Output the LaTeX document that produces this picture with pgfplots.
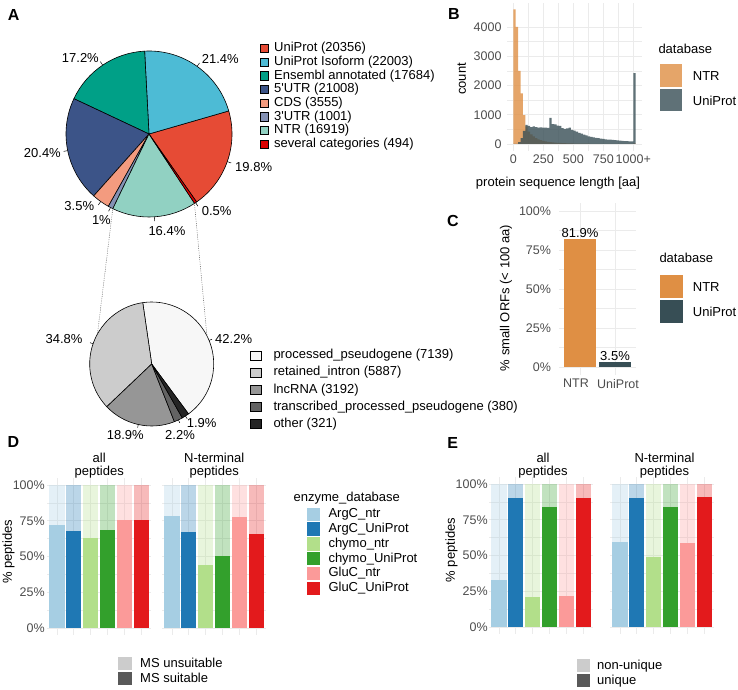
\documentclass[border=0pt]{standalone}
\usepackage{fontspec}
\setmainfont{Liberation Sans}
\usepackage{pgfplots}
\pgfplotsset{compat=1.18}
\usetikzlibrary{calc}

\definecolor{npgA}{HTML}{E64B35}
\definecolor{npgB}{HTML}{4DBBD5}
\definecolor{npgC}{HTML}{00A087}
\definecolor{npgD}{HTML}{3C5488}
\definecolor{npgE}{HTML}{F39B7F}
\definecolor{npgF}{HTML}{8491B4}
\definecolor{npgG}{HTML}{91D1C2}
\definecolor{npgH}{HTML}{DC0000}
\definecolor{gA}{HTML}{F7F7F7}
\definecolor{gB}{HTML}{CCCCCC}
\definecolor{gC}{HTML}{969696}
\definecolor{gD}{HTML}{636363}
\definecolor{gE}{HTML}{252525}
\definecolor{jntr}{HTML}{DF8F44}
\definecolor{juni}{HTML}{374E55}
\definecolor{pA}{HTML}{A6CEE3}
\definecolor{pB}{HTML}{1F78B4}
\definecolor{pC}{HTML}{B2DF8A}
\definecolor{pD}{HTML}{33A02C}
\definecolor{pE}{HTML}{FB9A99}
\definecolor{pF}{HTML}{E31A1C}
\definecolor{ggrid}{HTML}{EBEBEB}
\definecolor{tickgray}{HTML}{4D4D4D}

\pgfplotsset{
  gg/.style={
    scale only axis, anchor=south west,
    axis line style={draw=none},
    tick style={draw=none},
    major tick length=0pt, minor tick length=0pt,
    grid=both,
    major grid style={draw=ggrid, line width=0.9pt},
    minor grid style={draw=ggrid, line width=0.45pt},
    tick label style={font=\fontsize{12.5}{15}\selectfont, text=tickgray},
    /pgf/number format/assume math mode=true,
    /pgf/number format/1000 sep={},
    scaled ticks=false,
  },
  gbar/.style={ybar, bar width=0.9, bar shift=0pt, draw=none},
}

\newcommand{\sixbars}[6]{%
  \addplot[gbar, fill=pA, fill opacity=0.3] coordinates {(1,100)};
  \addplot[gbar, fill=pB, fill opacity=0.3] coordinates {(2,100)};
  \addplot[gbar, fill=pC, fill opacity=0.3] coordinates {(3,100)};
  \addplot[gbar, fill=pD, fill opacity=0.3] coordinates {(4,100)};
  \addplot[gbar, fill=pE, fill opacity=0.3] coordinates {(5,100)};
  \addplot[gbar, fill=pF, fill opacity=0.3] coordinates {(6,100)};
  \addplot[gbar, fill=pA] coordinates {(1,#1)};
  \addplot[gbar, fill=pB] coordinates {(2,#2)};
  \addplot[gbar, fill=pC] coordinates {(3,#3)};
  \addplot[gbar, fill=pD] coordinates {(4,#4)};
  \addplot[gbar, fill=pE] coordinates {(5,#5)};
  \addplot[gbar, fill=pF] coordinates {(6,#6)};
}

\begin{document}
\fontsize{13}{15.6}\selectfont
\begin{tikzpicture}
\path[use as bounding box] (0pt,0pt) rectangle (738pt,689pt);

% ---------- Panel A: big pie ----------
\gdef\s{-55}
\foreach \v/\c in {20356/npgA, 22003/npgB, 17684/npgC, 21008/npgD, 3555/npgE, 1001/npgF, 16919/npgG, 494/npgH} {
  \edef\e{\fpeval{\s+\v/103020*360}}
  \edef\m{\fpeval{(\s+\e)/2}}
  \filldraw[fill=\c, draw=black, line width=0.6pt, line join=round] (149pt,555pt) -- ++(\s:83pt) arc[start angle=\s, end angle=\e, radius=83pt] -- cycle;
  \draw[line width=0.5pt] (149pt,555pt) ++(\m:83pt) -- ++(\m:4.2pt);
  \xdef\s{\e}
}
% small pie
\gdef\s{-53.6}
\foreach \v/\c in {7139/gA, 5887/gB, 3192/gC, 380/gD, 321/gE} {
  \edef\e{\fpeval{\s+\v/16919*360}}
  \edef\m{\fpeval{(\s+\e)/2}}
  \filldraw[fill=\c, draw=black, line width=0.6pt, line join=round] (151.7pt,325pt) -- ++(\s:62pt) arc[start angle=\s, end angle=\e, radius=62pt] -- cycle;
  \draw[line width=0.5pt] (151.7pt,325pt) ++(\m:62pt) -- ++(\m:3.2pt);
  \xdef\s{\e}
}
\draw[line width=0.5pt, black!75, dash pattern=on 0.6pt off 1.2pt] ($(149pt,555pt)+(244.1:83pt)$) -- ($(151.7pt,325pt)+(151:62pt)$);
\draw[line width=0.5pt, black!75, dash pattern=on 0.6pt off 1.2pt] ($(149pt,555pt)+(303.2:83pt)$) -- ($(151.7pt,325pt)+(27:62pt)$);

% ---------- Panel B: histogram ----------
\begin{axis}[gg, at={(507.2pt,538.3pt)}, width=134.6pt, height=148pt,
  xmin=-51, xmax=1071, ymin=-230, ymax=4830,
  xtick={0,250,500,750,1000}, xticklabels={0,250,500,750,1000+},
  ytick={0,1000,2000,3000,4000}, minor tick num=1,
  yticklabel style={xshift=-1.2pt}]
\addplot[ybar interval, fill=jntr, fill opacity=0.8, draw=none] table {
x y
0 4600
20 4000
40 2500
60 1730
80 990
100 600
120 420
140 330
160 260
180 200
200 160
220 130
240 110
260 90
280 75
300 65
320 55
340 45
360 40
380 35
400 30
420 25
440 22
460 20
480 18
500 15
520 13
540 12
560 10
580 10
600 8
620 8
640 7
660 6
680 6
700 5
720 5
740 4
760 4
780 4
800 3
820 3
840 3
860 3
880 2
900 2
920 2
940 2
960 2
980 2
1000 20
1020 0
};
\addplot[ybar interval, fill=juni, fill opacity=0.8, draw=none] table {
x y
0 0
20 5
40 60
60 200
80 450
100 650
120 620
140 580
160 600
180 580
200 560
220 570
240 560
260 560
280 550
300 890
320 680
340 670
360 630
380 620
400 540
420 520
440 530
460 560
480 480
500 460
520 420
540 380
560 350
580 320
600 290
620 260
640 240
660 225
680 210
700 200
720 185
740 170
760 160
780 150
800 145
820 140
840 130
860 125
880 115
900 105
920 100
940 95
960 90
980 85
1000 2420
1020 0
};
\end{axis}

% ---------- Panel C ----------
\begin{axis}[gg, at={(559pt,314.2pt)}, width=77pt, height=171.6pt,
  xmin=0.4, xmax=2.6, ymin=-5, ymax=105,
  xtick={1,2}, xticklabels={NTR\hspace*{8pt},\hspace*{6pt}UniProt},
  ytick={0,25,50,75,100}, yticklabels={0\%,25\%,50\%,75\%,100\%},
  minor y tick num=1, yticklabel style={xshift=-3.5pt},
  nodes near coords={\pgfmathprintnumber[fixed,fixed zerofill,precision=1]{\pgfplotspointmeta}\%},
  every node near coord/.append style={font=\fontsize{13}{15}\selectfont, text=black, inner sep=1pt, anchor=south}]
\addplot[gbar, fill=jntr] coordinates {(1,81.9)};
\addplot[gbar, fill=juni] coordinates {(2,3.5)};
\end{axis}

% ---------- Panel D ----------
\begin{axis}[gg, at={(46.9pt,53.85pt)}, width=104.5pt, height=157.3pt,
  xmin=0.4, xmax=6.6, ymin=-5, ymax=105,
  xtick={1,2,3,4,5,6}, xticklabels={,,,,,},
  ytick={0,25,50,75,100}, yticklabels={0\%,25\%,50\%,75\%,100\%},
  minor y tick num=1, yticklabel style={xshift=2.4pt}]
\sixbars{72.1}{68.1}{62.6}{68.8}{75.3}{75.3}
\end{axis}
\begin{axis}[gg, at={(161.9pt,53.85pt)}, width=104.5pt, height=157.3pt,
  xmin=0.4, xmax=6.6, ymin=-5, ymax=105,
  xtick={1,2,3,4,5,6}, xticklabels={,,,,,},
  ytick={0,25,50,75,100}, yticklabels={,,,,},
  minor y tick num=1]
\sixbars{78.6}{67.0}{44.0}{50.5}{77.4}{65.8}
\end{axis}

% ---------- Panel E ----------
\begin{axis}[gg, at={(488.9pt,54.85pt)}, width=104.5pt, height=157.3pt,
  xmin=0.4, xmax=6.6, ymin=-5, ymax=105,
  xtick={1,2,3,4,5,6}, xticklabels={,,,,,},
  ytick={0,25,50,75,100}, yticklabels={0\%,25\%,50\%,75\%,100\%},
  minor y tick num=1, yticklabel style={xshift=3.3pt}]
\sixbars{32.6}{90.0}{20.7}{83.7}{21.4}{90.0}
\end{axis}
\begin{axis}[gg, at={(609.9pt,54.85pt)}, width=104.5pt, height=157.3pt,
  xmin=0.4, xmax=6.6, ymin=-5, ymax=105,
  xtick={1,2,3,4,5,6}, xticklabels={,,,,,},
  ytick={0,25,50,75,100}, yticklabels={,,,,},
  minor y tick num=1]
\sixbars{59.6}{90.0}{49.3}{84.1}{58.9}{90.7}
\end{axis}

% ---------- texts (pixel coordinates from top-left) ----------
\begin{scope}[x=1pt,y=-1pt,shift={(0pt,689pt)}]
  % panel letters
  \begin{scope}[every node/.style={font=\fontsize{16}{19}\selectfont\bfseries}]
    \node at (13.7,15.3) {A};
    \node at (453.8,14.2) {B};
    \node at (453,221) {C};
    \node at (13.3,441.7) {D};
    \node at (452.8,442.5) {E};
  \end{scope}
  % pie labels
  \begin{scope}[every node/.style={inner sep=0pt}]
    \node[anchor=west] at (201.7,59.3) {21.4\%};
    \node[anchor=east] at (99,58.3) {17.2\%};
    \node[anchor=east] at (61,153.3) {20.4\%};
    \node[anchor=west] at (235,166.7) {19.8\%};
    \node[anchor=east] at (94.3,206) {3.5\%};
    \node[anchor=east] at (111,220) {1\%};
    \node[anchor=west] at (148.3,231) {16.4\%};
    \node[anchor=west] at (201.7,211) {0.5\%};
    \node[anchor=west] at (215,339.3) {42.2\%};
    \node[anchor=east] at (82.7,339.3) {34.8\%};
    \node[anchor=west] at (106.7,435) {18.9\%};
    \node[anchor=west] at (165,435) {2.2\%};
    \node[anchor=west] at (186.7,423.3) {1.9\%};
  \end{scope}
  % pie legends
  \foreach \c/\t [count=\i from 0] in {npgA/UniProt (20356), npgB/UniProt Isoform (22003), npgC/Ensembl annotated (17684), npgD/5\textquotesingle UTR (21008), npgE/CDS (3555), npgF/3\textquotesingle UTR (1001), npgG/NTR (16919), npgH/several categories (494)} {
    \filldraw[fill=\c, draw=black, line width=0.5pt] (260,{44.2+13.67*\i}) rectangle (268.3,{52.5+13.67*\i});
    \node[anchor=west, inner sep=0pt] at (274,{48.3+13.67*\i}) {\t};
  }
  \foreach \c/\t [count=\i from 0] in {gA/processed\_pseudogene (7139), gB/retained\_intron (5887), gC/lncRNA (3192), gD/transcribed\_processed\_pseudogene (380), gE/other (321)} {
    \filldraw[fill=\c, draw=black, line width=0.5pt] (250.3,{351+17.07*\i}) rectangle (261.3,{360+17.07*\i});
    \node[anchor=west, inner sep=0pt] at (273.3,{355.5+17.07*\i}) {\t};
  }
  % panel B titles and legend
  \node[rotate=90] at (461.7,79) {count};
  \node at (558,183) {protein sequence length [aa]};
  \node[anchor=west, inner sep=0pt] at (658.3,49.3) {database};
  \fill[jntr, fill opacity=0.8] (660,64.3) rectangle (681.7,87.3);
  \fill[juni, fill opacity=0.8] (660,89) rectangle (681.7,110.7);
  \node[anchor=west, inner sep=0pt] at (692.7,76) {NTR};
  \node[anchor=west, inner sep=0pt] at (692.7,100.5) {UniProt};
  % panel C titles and legend
  \node[rotate=90] at (506,298) {\% small ORFs (< 100 aa)};
  \node[anchor=west, inner sep=0pt] at (659.3,258.3) {database};
  \fill[jntr] (660,275) rectangle (683.3,298.3);
  \fill[juni] (660,300) rectangle (683.3,322.7);
  \node[anchor=west, inner sep=0pt] at (692.7,286.7) {NTR};
  \node[anchor=west, inner sep=0pt] at (692.7,311.5) {UniProt};
  % facet titles
  \begin{scope}[every node/.style={align=center, font=\fontsize{13}{13}\selectfont}]
    \node at (99.2,465.5) {all\\peptides};
    \node at (214.2,465.5) {N-terminal\\peptides};
    \node at (543,465.5) {all\\peptides};
    \node at (664.5,465.5) {N-terminal\\peptides};
  \end{scope}
  % panel D
  \node[rotate=90] at (8.5,551.7) {\% peptides};
  \node[anchor=west, inner sep=0pt] at (293.5,498) {enzyme\_database};
  \foreach \c/\t [count=\i from 0] in {pA/ArgC\_ntr, pB/ArgC\_UniProt, pC/chymo\_ntr, pD/chymo\_UniProt, pE/GluC\_ntr, pF/GluC\_UniProt} {
    \fill[\c] (307,{507.6+14.8*\i}) rectangle (320.3,{520.9+14.8*\i});
    \node[anchor=west, inner sep=0pt] at (328.3,{514.3+14.8*\i}) {\t};
  }
  \fill[black!20] (118.3,656.7) rectangle (131.7,670);
  \fill[black!65] (118.3,671.7) rectangle (131.7,685);
  \node[anchor=west, inner sep=0pt] at (140,663.3) {MS unsuitable};
  \node[anchor=west, inner sep=0pt] at (140,678.3) {MS suitable};
  % panel E
  \node[rotate=90] at (451.5,550) {\% peptides};
  \fill[black!20] (576.7,659) rectangle (590,672.3);
  \fill[black!65] (576.7,674) rectangle (590,687.3);
  \node[anchor=west, inner sep=0pt] at (597,666) {non-unique};
  \node[anchor=west, inner sep=0pt] at (597,680.7) {unique};
\end{scope}
\end{tikzpicture}
\end{document}
